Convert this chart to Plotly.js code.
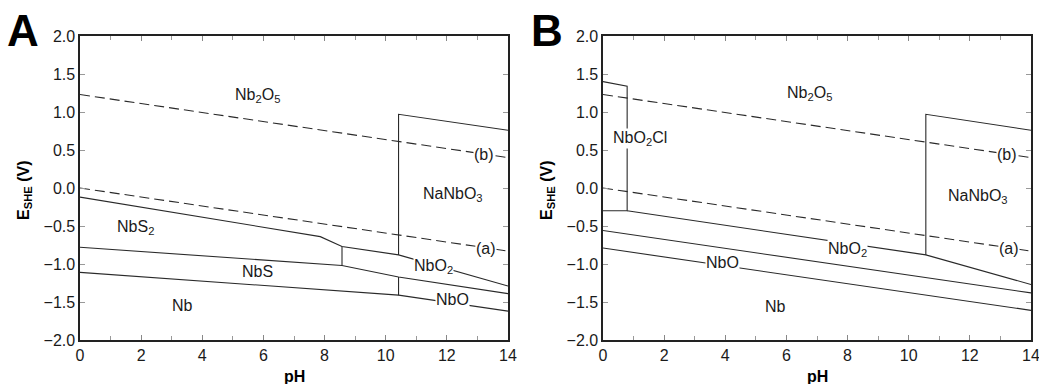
<!DOCTYPE html>
<html><head><meta charset="utf-8">
<script src="https://cdn.plot.ly/plotly-3.0.1.min.js"></script>
<style>html,body{margin:0;padding:0;background:#fff}#plot{width:1039px;height:384px}</style>
</head><body><div id="plot"></div>
<script>
// ---- data (pH, E_SHE in V) ----
const waterPH = [0, 14];
const waterA_E = [0.0, -0.83];
const waterB_E = [1.23, 0.40];

// Panel A boundaries
const A_upper_pH = [0, 7.86, 8.57, 10.42, 14];
const A_upper_E  = [-0.12, -0.64, -0.77, -0.88, -1.29];
const A_mid_pH   = [0, 8.57, 10.42, 14];
const A_mid_E    = [-0.78, -1.02, -1.17, -1.39];
const A_low_pH   = [0, 10.42, 14];
const A_low_E    = [-1.11, -1.41, -1.62];
const A_v1_pH    = [8.57, 8.57];
const A_v1_E     = [-0.77, -1.02];
const A_v2_pH    = [10.42, 10.42];
const A_v2_E     = [-1.17, -1.41];
const A_na_pH    = [10.42, 10.42, 14];
const A_na_E     = [-0.88, 0.97, 0.76];

// Panel B boundaries
const B_cl_pH    = [0, 0.79, 0.79, 0];
const B_cl_E     = [1.40, 1.34, -0.30, -0.30];
const B_upper_pH = [0.79, 10.56, 14];
const B_upper_E  = [-0.30, -0.88, -1.27];
const B_na_pH    = [10.56, 10.56, 14];
const B_na_E     = [-0.88, 0.97, 0.76];
const B_mid_pH   = [0, 14];
const B_mid_E    = [-0.56, -1.38];
const B_low_pH   = [0, 14];
const B_low_E    = [-0.79, -1.61];

// Region labels
const A_labels = ["Nb<sub>2</sub>O<sub>5</sub>", "NaNbO<sub>3</sub>", "NbS<sub>2</sub>", "NbS", "Nb", "NbO<sub>2</sub>", "NbO", "(a)", "(b)"];
const B_labels = ["Nb<sub>2</sub>O<sub>5</sub>", "NbO<sub>2</sub>Cl", "NaNbO<sub>3</sub>", "NbO<sub>2</sub>", "NbO", "Nb", "(a)", "(b)"];
const xTicks = [0, 2, 4, 6, 8, 10, 12, 14];
const yTicks = [-2.0, -1.5, -1.0, -0.5, 0.0, 0.5, 1.0, 1.5, 2.0];

// ---- drawing ----
const LC = '#2a2a2a';
function line(x, y, xa, ya, dash) {
  return {x: x, y: y, xaxis: xa, yaxis: ya, mode: 'lines', hoverinfo: 'skip',
          line: {color: LC, width: 1.1, dash: dash || 'solid'}, showlegend: false};
}
const traces = [
  line(waterPH, waterA_E, 'x', 'y', '10px,5px'),
  line(waterPH, waterB_E, 'x', 'y', '10px,5px'),
  line(A_upper_pH, A_upper_E, 'x', 'y'),
  line(A_mid_pH, A_mid_E, 'x', 'y'),
  line(A_low_pH, A_low_E, 'x', 'y'),
  line(A_v1_pH, A_v1_E, 'x', 'y'),
  line(A_v2_pH, A_v2_E, 'x', 'y'),
  line(A_na_pH, A_na_E, 'x', 'y'),
  line(waterPH, waterA_E, 'x2', 'y2', '10px,5px'),
  line(waterPH, waterB_E, 'x2', 'y2', '10px,5px'),
  line(B_cl_pH, B_cl_E, 'x2', 'y2'),
  line(B_upper_pH, B_upper_E, 'x2', 'y2'),
  line(B_na_pH, B_na_E, 'x2', 'y2'),
  line(B_mid_pH, B_mid_E, 'x2', 'y2'),
  line(B_low_pH, B_low_E, 'x2', 'y2')
];

const FONT = '"Liberation Sans", Arial, Helvetica, sans-serif';
function xaxis(domain, anchor) {
  return {domain: domain, anchor: anchor, range: [0, 14], tickvals: xTicks, ticktext: xTicks.map(String),
    ticks: 'inside', ticklen: 5, tickcolor: '#888', tickwidth: 1,
    minor: {dtick: 1, tick0: 0, ticks: 'inside', ticklen: 4, tickcolor: '#999'},
    showline: true, linecolor: '#222', linewidth: 1.6, mirror: 'ticks',
    showgrid: false, zeroline: false, fixedrange: true, ticklabeloverflow: 'allow',
    tickfont: {family: FONT, size: 16, color: '#1a1a1a'}};
}
function yaxis(domain, anchor) {
  return {domain: domain, anchor: anchor, range: [-2, 2], tickvals: yTicks,
    ticktext: yTicks.map(v => (v < 0 ? '\u2212' : '') + Math.abs(v).toFixed(1)),
    ticks: 'inside', ticklen: 5, tickcolor: '#999', tickwidth: 1,
    showline: true, linecolor: '#222', linewidth: 1.6, mirror: 'ticks',
    showgrid: false, zeroline: false, fixedrange: true, ticklabeloverflow: 'allow',
    tickfont: {family: FONT, size: 16, color: '#1a1a1a'}};
}
const yDom = [1 - 340/384, 1 - 36/384];

function lab(text, x, y, xr, yr, size) {
  return {text: text, x: x, y: y, xref: xr, yref: yr, showarrow: false,
    xanchor: 'center', yanchor: 'middle',
    bgcolor: '#fff', borderpad: 0, font: {family: FONT, size: size || 16, color: '#1a1a1a'}};
}
const A_pos = [[5.8, 1.22], [12.2, -0.09], [1.8, -0.52], [5.8, -1.1], [3.35, -1.55], [11.55, -1.03], [12.2, -1.47], [13.28, -0.8], [13.22, 0.44]];
const B_pos = [[6.75, 1.245], [1.2, 0.65], [12.25, -0.11], [8.0, -0.81], [3.9, -0.985], [5.65, -1.555], [13.28, -0.8], [13.22, 0.44]];

const annotations = [];
A_labels.forEach((t, i) => annotations.push(lab(t, A_pos[i][0], A_pos[i][1], 'x', 'y')));
B_labels.forEach((t, i) => annotations.push(lab(t, B_pos[i][0], B_pos[i][1], 'x2', 'y2')));
// panel letters and axis titles
function paperText(text, px, py, size, angle) {
  return {text: text, x: px/1039, y: 1 - py/384, xref: 'paper', yref: 'paper', showarrow: false,
    xanchor: 'center', yanchor: 'middle', textangle: angle || 0,
    font: {family: FONT, size: size, color: '#000'}};
}
annotations.push(paperText('<b>A</b>', 23, 31, 44));
annotations.push(paperText('<b>B</b>', 547, 31, 44));
annotations.push(paperText('<b>pH</b>', 294, 376, 16));
annotations.push(paperText('<b>pH</b>', 817, 376, 16));
annotations.push(paperText('<b>E<sub>SHE</sub> (V)</b>', 25, 191, 16, -90));
annotations.push(paperText('<b>E<sub>SHE</sub> (V)</b>', 548, 191, 16, -90));

const layout = {
  width: 1039, height: 384, margin: {l: 0, r: 0, t: 0, b: 0},
  paper_bgcolor: '#fff', plot_bgcolor: '#fff', showlegend: false,
  xaxis: xaxis([80/1039, 508/1039], 'y'),
  yaxis: yaxis(yDom, 'x'),
  xaxis2: xaxis([603/1039, 1031/1039], 'y2'),
  yaxis2: yaxis(yDom, 'x2'),
  annotations: annotations
};
Plotly.newPlot('plot', traces, layout, {displayModeBar: false, staticPlot: true});
</script></body></html>
